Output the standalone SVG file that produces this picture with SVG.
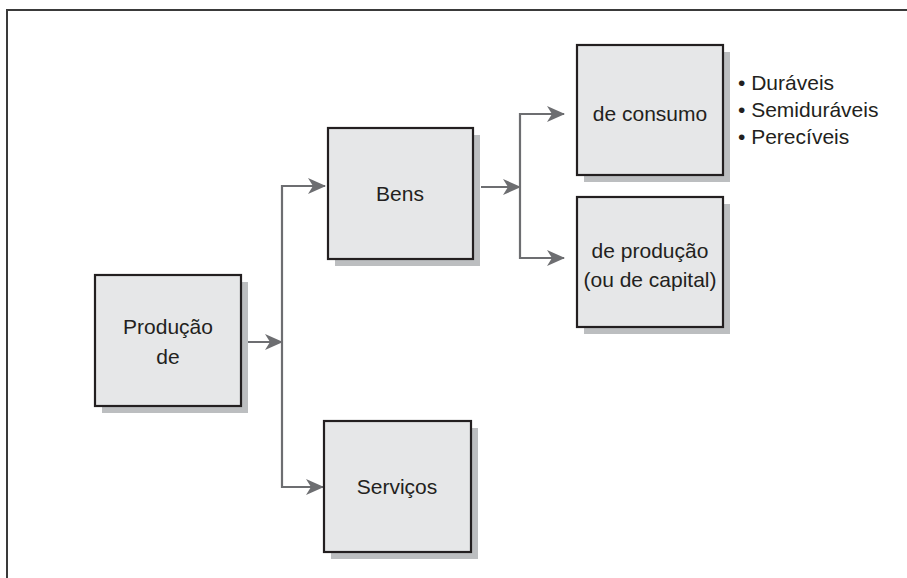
<svg xmlns="http://www.w3.org/2000/svg" width="907" height="578" viewBox="0 0 907 578">
  <style>
    .shadow { fill: #bcbec0; }
    .box { fill: #e6e7e8; stroke: #231f20; stroke-width: 2.2; }
    .label { font-family: "Liberation Sans", Arial, sans-serif; font-size: 21px; fill: #231f20; text-anchor: middle; }
    .list { font-family: "Liberation Sans", Arial, sans-serif; font-size: 21px; fill: #231f20; }
    .wire { fill: none; stroke: #6d6e71; stroke-width: 2.2; }
  </style>
  <defs>
    <marker id="arrow" viewBox="0 0 18 16" refX="17" refY="8" markerWidth="18" markerHeight="16" markerUnits="userSpaceOnUse" orient="auto">
      <path d="M0,0 L18,8 L0,16 L5,8 Z" fill="#6d6e71"/>
    </marker>
  </defs>

  <rect width="907" height="578" fill="#ffffff"/>
  <!-- frame -->
  <path d="M7,578 L7,10 L907,10" fill="none" stroke="#3a3a3a" stroke-width="2"/>

  <!-- connectors -->
  <g id="connectors">
    <line class="wire" x1="242" y1="342" x2="282" y2="342" marker-end="url(#arrow)"/>
    <path class="wire" d="M320,186 L282,186 L282,487 L318,487"/>
    <line class="wire" x1="282" y1="186" x2="325" y2="186" marker-end="url(#arrow)"/>
    <line class="wire" x1="282" y1="487" x2="323" y2="487" marker-end="url(#arrow)"/>
    <line class="wire" x1="481" y1="187" x2="520" y2="187" marker-end="url(#arrow)"/>
    <path class="wire" d="M558,114 L520,114 L520,258 L558,258"/>
    <line class="wire" x1="520" y1="114" x2="564" y2="114" marker-end="url(#arrow)"/>
    <line class="wire" x1="520" y1="258" x2="564" y2="258" marker-end="url(#arrow)"/>
  </g>

  <g id="producao">
    <rect class="shadow" x="102" y="282" width="146" height="131"/>
    <rect class="box" x="95" y="275" width="146" height="131"/>
    <text class="label" x="168" y="334">Produção</text>
    <text class="label" x="168" y="364">de</text>
  </g>

  <g id="bens">
    <rect class="shadow" x="335" y="135" width="145" height="131"/>
    <rect class="box" x="328" y="128" width="145" height="131"/>
    <text class="label" x="400" y="201">Bens</text>
  </g>

  <g id="servicos">
    <rect class="shadow" x="331" y="428" width="147" height="131"/>
    <rect class="box" x="324" y="421" width="147" height="131"/>
    <text class="label" x="397" y="494">Serviços</text>
  </g>

  <g id="consumo">
    <rect class="shadow" x="584" y="52" width="146" height="130"/>
    <rect class="box" x="577" y="45" width="146" height="130"/>
    <text class="label" x="650" y="121">de consumo</text>
  </g>

  <g id="producao-capital">
    <rect class="shadow" x="584" y="204" width="146" height="130"/>
    <rect class="box" x="577" y="197" width="146" height="130"/>
    <text class="label" x="650" y="258">de produção</text>
    <text class="label" x="650" y="287">(ou de capital)</text>
  </g>

  <g id="tipos">
    <text class="list" x="738" y="90">• Duráveis</text>
    <text class="list" x="738" y="117">• Semiduráveis</text>
    <text class="list" x="738" y="144">• Perecíveis</text>
  </g>
</svg>
